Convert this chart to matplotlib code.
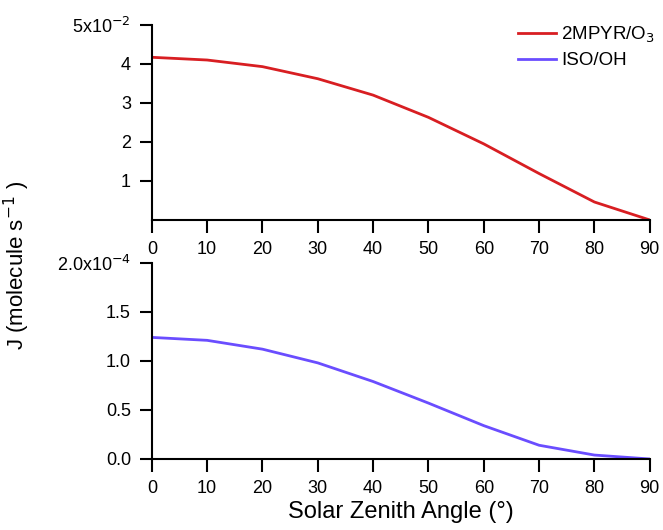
import numpy as np
import matplotlib.pyplot as plt

plt.rcParams['font.family'] = ['Liberation Sans', 'DejaVu Sans']

# solar zenith angle (deg)
sza = [0, 10, 20, 30, 40, 50, 60, 70, 80, 90]
# photolysis rates J (molecule s^-1)
j_2mpyr = [4.17e-2, 4.10e-2, 3.93e-2, 3.62e-2, 3.20e-2, 2.63e-2, 1.95e-2, 1.19e-2, 0.46e-2, 0.0]
j_iso = [1.24e-4, 1.21e-4, 1.12e-4, 0.98e-4, 0.79e-4, 0.57e-4, 0.34e-4, 0.14e-4, 0.04e-4, 0.0]

top_ticks = [1e-2, 2e-2, 3e-2, 4e-2, 5e-2]
top_labels = ['1', '2', '3', '4', '5x10$^{-2}$']
bot_ticks = [0, 0.5e-4, 1.0e-4, 1.5e-4, 2.0e-4]
bot_labels = ['0.0', '0.5', '1.0', '1.5', '2.0x10$^{-4}$']
xticks = [0, 10, 20, 30, 40, 50, 60, 70, 80, 90]

red = '#d81e22'
blue = '#6a4dff'

fig = plt.figure(figsize=(6.63, 5.30), dpi=100)
ax1 = fig.add_axes([0.229, 0.585, 0.751, 0.368])
ax2 = fig.add_axes([0.229, 0.134, 0.751, 0.370])

ax1.plot(sza, j_2mpyr, color=red, lw=2.0, label='2MPYR/O$_3$')
ax2.plot(sza, j_iso, color=blue, lw=2.0, label='ISO/OH')

for ax in (ax1, ax2):
    for s in ('top', 'right'):
        ax.spines[s].set_visible(False)
    for s in ('left', 'bottom'):
        ax.spines[s].set_linewidth(1.5)
    ax.tick_params(direction='out', length=9, width=1.5, labelsize=13, pad=6)
    ax.set_xlim(0, 90)
    ax.set_xticks(xticks)

ax1.set_ylim(0, 5e-2)
ax1.set_yticks(top_ticks)
ax1.set_yticklabels(top_labels)
ax2.set_ylim(0, 2e-4)
ax2.set_yticks(bot_ticks)
ax2.set_yticklabels(bot_labels)

ax2.set_xlabel('Solar Zenith Angle (°)', fontsize=17, labelpad=3)
fig.text(0.026, 0.5, 'J (molecule s$^{-1}$ )', rotation=90, fontsize=16,
         ha='center', va='center')

h1, l1 = ax1.get_legend_handles_labels()
h2, l2 = ax2.get_legend_handles_labels()
ax1.legend(h1 + h2, l1 + l2, loc='upper right', bbox_to_anchor=(1.045, 1.09),
           frameon=False, fontsize=13.5, handlelength=2.0, handletextpad=0.3,
           labelspacing=0.4)

fig.savefig('out.png', dpi=100)
